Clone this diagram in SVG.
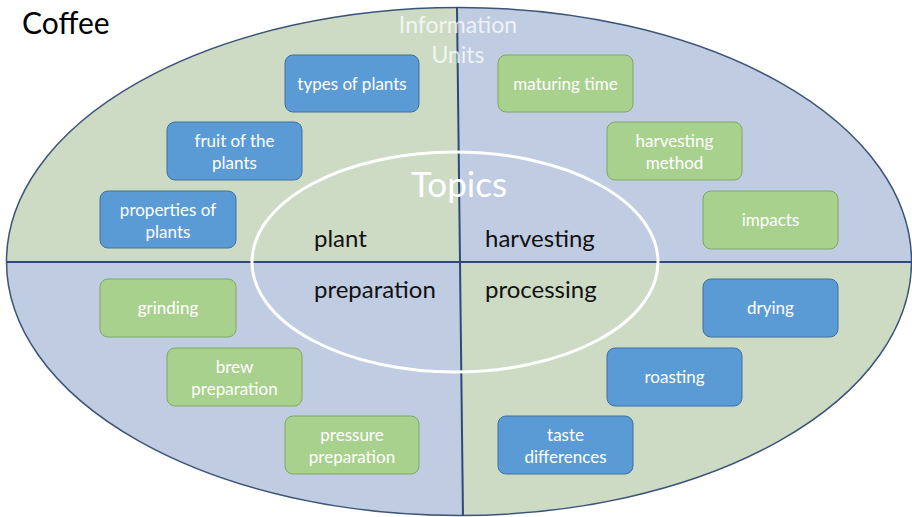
<svg xmlns="http://www.w3.org/2000/svg" width="912" height="517" viewBox="0 0 912 517">
  <style>
    .title { font-family: Lato, "Liberation Sans", sans-serif; font-size: 30px; fill: #000; }
    .units { font-family: Lato, "Liberation Sans", sans-serif; font-size: 23px; fill: #ffffff; fill-opacity: 0.75; text-anchor: middle; }
    .topics { font-family: Lato, "Liberation Sans", sans-serif; font-size: 35px; fill: #ffffff; text-anchor: middle; }
    .topic { font-family: Lato, "Liberation Sans", sans-serif; font-size: 24px; fill: #111; }
    .box text { font-family: Lato, "Liberation Sans", sans-serif; font-size: 17px; fill: #ffffff; text-anchor: middle; }
    .blue rect { fill: #5b9bd5; stroke: #41719c; stroke-width: 1; }
    .green rect { fill: #a9d18e; stroke: #7fa865; stroke-width: 1; }
    .divider { stroke: #2f4a78; stroke-width: 2; fill: none; }
  </style>
  <defs>
    <clipPath id="oval">
      <ellipse cx="459" cy="261.5" rx="452.5" ry="254"/>
    </clipPath>
  </defs>

  <rect width="912" height="517" fill="#ffffff"/>

  <!-- quadrant fills inside the large ellipse -->
  <g id="quadrants" clip-path="url(#oval)">
    <polygon points="0,0 457,0 460,262 0,262" fill="#cddbc4"/>
    <polygon points="457,0 912,0 912,262 460,262" fill="#bfcce1"/>
    <polygon points="0,262 460,262 463,517 0,517" fill="#bfcce1"/>
    <polygon points="460,262 912,262 912,517 463,517" fill="#cddbc4"/>
  </g>
  <ellipse cx="459" cy="261.5" rx="452.5" ry="254" fill="none" stroke="#3c5478" stroke-width="1.5"/>

  <!-- axis lines splitting the ellipse -->
  <g id="dividers" clip-path="url(#oval)">
    <line class="divider" x1="456.9" y1="0" x2="463" y2="517"/>
    <line class="divider" x1="0" y1="262" x2="912" y2="262"/>
  </g>

  <text class="title" x="22" y="34">Coffee</text>

  <g id="information-units">
    <text class="units" x="458" y="33">Information</text>
    <text class="units" x="458" y="63">Units</text>
  </g>

  <!-- inner topic ring -->
  <g id="topics">
    <ellipse cx="455" cy="262" rx="203" ry="110" fill="none" stroke="#ffffff" stroke-width="3"/>
    <text class="topics" x="459" y="197">Topics</text>
    <text class="topic" x="314" y="247">plant</text>
    <text class="topic" x="485" y="247">harvesting</text>
    <text class="topic" x="314" y="298">preparation</text>
    <text class="topic" x="485" y="298">processing</text>
  </g>

  <!-- plant -->
  <g id="types-of-plants" class="box blue">
    <rect x="285" y="55" width="134" height="57" rx="8"/>
    <text x="352" y="90">types of plants</text>
  </g>
  <g id="fruit-of-the-plants" class="box blue">
    <rect x="167" y="122" width="135" height="58" rx="8"/>
    <text x="234.5" y="147">fruit of the</text>
    <text x="234.5" y="169">plants</text>
  </g>
  <g id="properties-of-plants" class="box blue">
    <rect x="100" y="191" width="136" height="57" rx="8"/>
    <text x="168" y="216">properties of</text>
    <text x="168" y="238">plants</text>
  </g>

  <!-- harvesting -->
  <g id="maturing-time" class="box green">
    <rect x="498" y="55" width="135" height="57" rx="8"/>
    <text x="565.5" y="90">maturing time</text>
  </g>
  <g id="harvesting-method" class="box green">
    <rect x="607" y="122" width="135" height="58" rx="8"/>
    <text x="674.5" y="147">harvesting</text>
    <text x="674.5" y="169">method</text>
  </g>
  <g id="impacts" class="box green">
    <rect x="703" y="191" width="135" height="58" rx="8"/>
    <text x="770.5" y="226">impacts</text>
  </g>

  <!-- preparation -->
  <g id="grinding" class="box green">
    <rect x="100" y="279" width="136" height="58" rx="8"/>
    <text x="168" y="314">grinding</text>
  </g>
  <g id="brew-preparation" class="box green">
    <rect x="167" y="348" width="135" height="58" rx="8"/>
    <text x="234.5" y="373">brew</text>
    <text x="234.5" y="395">preparation</text>
  </g>
  <g id="pressure-preparation" class="box green">
    <rect x="285" y="416" width="134" height="58" rx="8"/>
    <text x="352" y="441">pressure</text>
    <text x="352" y="463">preparation</text>
  </g>

  <!-- processing -->
  <g id="drying" class="box blue">
    <rect x="703" y="279" width="135" height="58" rx="8"/>
    <text x="770.5" y="314">drying</text>
  </g>
  <g id="roasting" class="box blue">
    <rect x="607" y="348" width="135" height="58" rx="8"/>
    <text x="674.5" y="383">roasting</text>
  </g>
  <g id="taste-differences" class="box blue">
    <rect x="498" y="416" width="135" height="58" rx="8"/>
    <text x="565.5" y="441">taste</text>
    <text x="565.5" y="463">differences</text>
  </g>
</svg>
